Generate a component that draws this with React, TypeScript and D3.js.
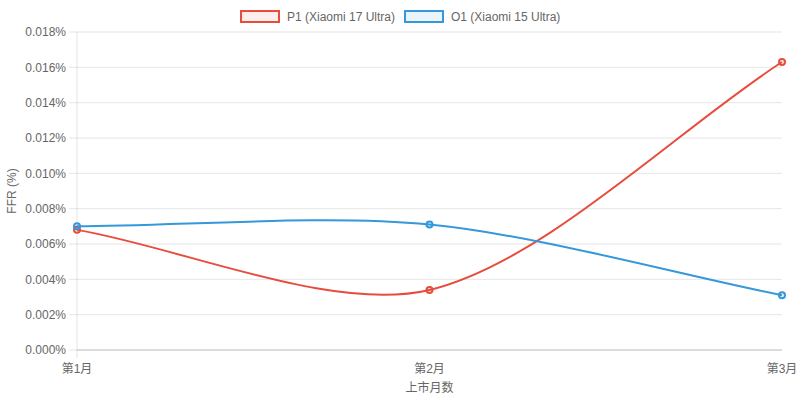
import { useEffect, useRef } from 'react';
import * as d3 from 'd3';

const months = ['第1月', '第2月', '第3月'];
const p1Values = [0.0068, 0.0034, 0.0163];
const o1Values = [0.007, 0.0071, 0.0031];
const yTicks = [0, 0.002, 0.004, 0.006, 0.008, 0.01, 0.012, 0.014, 0.016, 0.018];

const series = [
  { name: 'P1 (Xiaomi 17 Ultra)', values: p1Values, color: '#e74c3c', fill: 'rgba(231,76,60,0.1)' },
  { name: 'O1 (Xiaomi 15 Ultra)', values: o1Values, color: '#3498db', fill: 'rgba(52,152,219,0.1)' },
];

type Pt = { x: number; y: number };

// Chart.js-like cubic spline with tension
function splinePath(pts: Pt[], tension: number, top: number, bottom: number) {
  const cps = pts.map((cur, i) => {
    const prev = pts[i - 1] || cur;
    const next = pts[i + 1] || cur;
    const d01 = Math.hypot(cur.x - prev.x, cur.y - prev.y);
    const d12 = Math.hypot(next.x - cur.x, next.y - cur.y);
    let s01 = d01 / (d01 + d12);
    let s12 = d12 / (d01 + d12);
    s01 = isNaN(s01) ? 0 : s01;
    s12 = isNaN(s12) ? 0 : s12;
    const fa = tension * s01;
    const fb = tension * s12;
    const clamp = (v: number) => Math.max(top, Math.min(bottom, v));
    return {
      prev: { x: cur.x - fa * (next.x - prev.x), y: clamp(cur.y - fa * (next.y - prev.y)) },
      next: { x: cur.x + fb * (next.x - prev.x), y: clamp(cur.y + fb * (next.y - prev.y)) },
    };
  });
  const p = d3.path();
  p.moveTo(pts[0].x, pts[0].y);
  for (let i = 1; i < pts.length; i++) {
    const a = cps[i - 1].next;
    const b = cps[i].prev;
    p.bezierCurveTo(a.x, a.y, b.x, b.y, pts[i].x, pts[i].y);
  }
  return p.toString();
}

export default function App() {
  const svgRef = useRef<SVGSVGElement>(null);

  useEffect(() => {
    if (!svgRef.current) return;
    const svg = d3.select(svgRef.current);
    svg.selectAll('*').remove();

    const font = '"Liberation Sans", Arial, "Noto Sans CJK SC", sans-serif';
    const margin = { top: 32, right: 18, bottom: 51, left: 77 };
    const width = 800;
    const height = 401;

    const x = d3.scalePoint<string>().domain(months).range([margin.left, width - margin.right]);
    const y = d3.scaleLinear().domain([0, 0.018]).range([height - margin.bottom, margin.top]);

    const g = svg.append('g');

    // horizontal grid
    g.selectAll('.grid')
      .data(yTicks)
      .enter()
      .append('line')
      .attr('x1', margin.left - 8)
      .attr('x2', width - margin.right)
      .attr('y1', d => y(d))
      .attr('y2', d => y(d))
      .attr('stroke', 'rgba(0,0,0,0.1)')
      .attr('stroke-width', 1);

    // axes lines
    g.append('line')
      .attr('x1', margin.left).attr('x2', margin.left)
      .attr('y1', margin.top).attr('y2', height - margin.bottom + 8)
      .attr('stroke', 'rgba(0,0,0,0.1)');
    g.append('line')
      .attr('x1', margin.left).attr('x2', width - margin.right)
      .attr('y1', height - margin.bottom).attr('y2', height - margin.bottom)
      .attr('stroke', 'rgba(0,0,0,0.18)');

    // y tick labels (values are already in percent)
    g.selectAll('.ylab')
      .data(yTicks)
      .enter()
      .append('text')
      .attr('x', margin.left - 11)
      .attr('y', d => y(d))
      .attr('dy', '0.35em')
      .attr('text-anchor', 'end')
      .attr('font-family', font)
      .attr('font-size', 12)
      .attr('fill', '#666')
      .text(d => d.toFixed(3) + '%');

    // x tick labels
    g.selectAll('.xlab')
      .data(months)
      .enter()
      .append('text')
      .attr('x', d => x(d)!)
      .attr('y', height - margin.bottom + 23)
      .attr('text-anchor', 'middle')
      .attr('font-family', font)
      .attr('font-size', 12)
      .attr('fill', '#666')
      .text(d => d);

    // axis titles
    g.append('text')
      .attr('x', (margin.left + width - margin.right) / 2)
      .attr('y', height - 9)
      .attr('text-anchor', 'middle')
      .attr('font-family', font)
      .attr('font-size', 12)
      .attr('fill', '#666')
      .text('上市月数');
    g.append('text')
      .attr('transform', `translate(16,${(margin.top + height - margin.bottom) / 2}) rotate(-90)`)
      .attr('text-anchor', 'middle')
      .attr('font-family', font)
      .attr('font-size', 12)
      .attr('fill', '#666')
      .text('FFR (%)');

    // lines + points
    series.forEach(s => {
      const pts = s.values.map((v, i) => ({ x: x(months[i])!, y: y(v) }));
      g.append('path')
        .attr('d', splinePath(pts, 0.3, margin.top, height - margin.bottom))
        .attr('fill', 'none')
        .attr('stroke', s.color)
        .attr('stroke-width', 2);
      g.selectAll(null)
        .data(pts)
        .enter()
        .append('circle')
        .attr('cx', d => d.x)
        .attr('cy', d => d.y)
        .attr('r', 3)
        .attr('fill', s.fill)
        .attr('stroke', s.color)
        .attr('stroke-width', 2);
    });

    // legend
    const legend = svg.append('g');
    const legendX = [240, 404];
    series.forEach((s, i) => {
      const lg = legend.append('g').attr('transform', `translate(${legendX[i]},10)`);
      lg.append('rect')
        .attr('x', 1).attr('y', 1)
        .attr('width', 38).attr('height', 11)
        .attr('fill', s.fill)
        .attr('stroke', s.color)
        .attr('stroke-width', 2);
      lg.append('text')
        .attr('x', 47)
        .attr('y', 7)
        .attr('dy', '0.35em')
        .attr('font-family', font)
        .attr('font-size', 12)
        .attr('fill', '#666')
        .text(s.name);
    });
  }, []);

  return (
    <svg
      ref={svgRef}
      width={800}
      height={401}
      style={{ display: 'block', position: 'absolute', left: 0, top: 0, background: '#fff' }}
    />
  );
}
